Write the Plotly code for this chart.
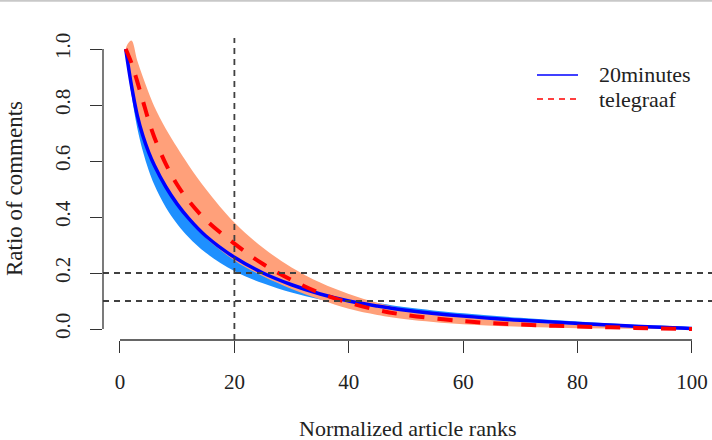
import plotly.graph_objects as go

# ---- data ----
ranks = [1, 2, 3, 4, 5, 6, 8, 10, 12, 15, 20, 25, 30, 35, 40, 45, 50, 60, 70, 80, 90, 100]

min20_mean = [1.00, 0.87, 0.765, 0.69, 0.632, 0.585, 0.508, 0.446, 0.395, 0.332, 0.256, 0.200,
              0.158, 0.125, 0.100, 0.082, 0.067, 0.046, 0.031, 0.020, 0.010, 0.002]
min20_low = [1.00, 0.84, 0.72, 0.635, 0.568, 0.515, 0.435, 0.375, 0.328, 0.272, 0.207, 0.163,
             0.130, 0.105, 0.086, 0.071, 0.058, 0.040, 0.027, 0.017, 0.008, 0.001]
min20_high = [1.00, 0.88, 0.775, 0.70, 0.642, 0.595, 0.518, 0.456, 0.405, 0.342, 0.265, 0.208,
              0.166, 0.134, 0.110, 0.093, 0.078, 0.056, 0.040, 0.027, 0.015, 0.004]

tel_mean = [1.00, 0.95, 0.885, 0.815, 0.745, 0.685, 0.59, 0.515, 0.458, 0.39, 0.305, 0.232,
            0.175, 0.128, 0.094, 0.068, 0.050, 0.028, 0.016, 0.009, 0.004, 0.0]
tel_low = [1.00, 0.88, 0.772, 0.695, 0.635, 0.585, 0.505, 0.44, 0.388, 0.325, 0.245, 0.188,
           0.143, 0.105, 0.072, 0.050, 0.035, 0.017, 0.008, 0.003, 0.001, 0.0]
tel_high = [1.00, 1.03, 0.96, 0.90, 0.845, 0.795, 0.715, 0.648, 0.585, 0.50, 0.38, 0.29,
            0.22, 0.166, 0.125, 0.094, 0.071, 0.043, 0.026, 0.014, 0.006, 0.001]

series_names = ["20minutes", "telegraaf"]
x_ticks = [0, 20, 40, 60, 80, 100]
y_ticks = [0.0, 0.2, 0.4, 0.6, 0.8, 1.0]
y_ticktext = ["0.0", "0.2", "0.4", "0.6", "0.8", "1.0"]
vline_x = [20]
hline_y = [0.2, 0.1]

# ---- layout geometry ----
W, H = 712, 440
ML, MR, MT, MB = 103, 0, 38, 100
PW, PH = W - ML - MR, H - MT - MB
x_range = [-2.97, 103.5]
y_range = [-0.0393, 1.0393]
FONT = "Liberation Serif, Times New Roman, serif"
TXT = "#222222"
AX = "#333333"
SMOOTH = 1.0


def px_to_paper_x(px):
    return (px - ML) / PW


def px_to_paper_y(py):
    return (H - MB - py) / PH


def data_to_paper_x(v):
    return (v - x_range[0]) / (x_range[1] - x_range[0])


def data_to_paper_y(v):
    return (v - y_range[0]) / (y_range[1] - y_range[0])


fig = go.Figure()

# bands
fig.add_trace(go.Scatter(
    x=ranks + ranks[::-1], y=min20_high + min20_low[::-1],
    fill="toself", fillcolor="#1E90FF", line=dict(width=0, shape="spline", smoothing=SMOOTH),
    mode="lines", hoverinfo="skip", showlegend=False))
fig.add_trace(go.Scatter(
    x=ranks + ranks[::-1], y=tel_high + tel_low[::-1],
    fill="toself", fillcolor="#FFA07A", line=dict(width=0, shape="spline", smoothing=SMOOTH),
    mode="lines", hoverinfo="skip", showlegend=False))

# lines
fig.add_trace(go.Scatter(
    x=ranks, y=min20_mean, mode="lines", name=series_names[0],
    line=dict(color="#0000FF", width=3.5, shape="spline", smoothing=SMOOTH), showlegend=False))
fig.add_trace(go.Scatter(
    x=ranks, y=tel_mean, mode="lines", name=series_names[1],
    line=dict(color="#FF0000", width=4, dash="15px,13px", shape="spline", smoothing=SMOOTH),
    showlegend=False))

shapes = []
# reference lines
for v in vline_x:
    shapes.append(dict(type="line", xref="x", yref="paper", x0=v, x1=v, y0=0, y1=1,
                       line=dict(color="#404040", width=1.8, dash="6px,5px"), layer="above"))
for v in hline_y:
    shapes.append(dict(type="line", xref="paper", yref="y", x0=0, x1=1, y0=v, y1=v,
                       line=dict(color="#404040", width=1.8, dash="6px,5px"), layer="above"))

# R-style detached axis lines (span first to last tick)
shapes.append(dict(type="line", xref="paper", yref="paper",
                   x0=data_to_paper_x(x_ticks[0]), x1=data_to_paper_x(x_ticks[-1]), y0=0, y1=0,
                   line=dict(color=AX, width=1.3)))
shapes.append(dict(type="line", xref="paper", yref="paper", x0=0, x1=0,
                   y0=data_to_paper_y(y_ticks[0]), y1=data_to_paper_y(y_ticks[-1]),
                   line=dict(color=AX, width=1.3)))

# top grey border line
shapes.append(dict(type="line", xref="paper", yref="paper",
                   x0=px_to_paper_x(0), x1=px_to_paper_x(W), y0=px_to_paper_y(0.8), y1=px_to_paper_y(0.8),
                   line=dict(color="#c8c8c8", width=2)))

# manual legend samples
leg_x0, leg_x1 = px_to_paper_x(537), px_to_paper_x(578)
shapes.append(dict(type="line", xref="paper", yref="paper", x0=leg_x0, x1=leg_x1,
                   y0=px_to_paper_y(75), y1=px_to_paper_y(75),
                   line=dict(color="#0000FF", width=1.3)))
shapes.append(dict(type="line", xref="paper", yref="paper", x0=leg_x0, x1=leg_x1,
                   y0=px_to_paper_y(99), y1=px_to_paper_y(99),
                   line=dict(color="#FF0000", width=1.3, dash="6px,5px")))

annotations = [
    dict(text=series_names[0], xref="paper", yref="paper", x=px_to_paper_x(597), y=px_to_paper_y(75),
         xanchor="left", yanchor="middle", showarrow=False, font=dict(family=FONT, size=22, color=TXT)),
    dict(text=series_names[1], xref="paper", yref="paper", x=px_to_paper_x(597), y=px_to_paper_y(99),
         xanchor="left", yanchor="middle", showarrow=False, font=dict(family=FONT, size=22, color=TXT)),
    dict(text="Normalized article ranks", xref="paper", yref="paper", x=0.5, y=0,
         xanchor="center", yanchor="middle", yshift=-88, showarrow=False,
         font=dict(family=FONT, size=22, color=TXT)),
    dict(text="Ratio of comments", xref="paper", yref="paper", x=0, y=0.5,
         xanchor="center", yanchor="middle", xshift=-89, textangle=-90, showarrow=False,
         font=dict(family=FONT, size=23, color=TXT)),
]

fig.update_layout(
    width=W, height=H,
    margin=dict(l=ML, r=MR, t=MT, b=MB, pad=0),
    paper_bgcolor="white", plot_bgcolor="white",
    showlegend=False,
    shapes=shapes, annotations=annotations,
    xaxis=dict(range=x_range, tickmode="array", tickvals=x_ticks, ticks="outside", ticklen=12,
               tickwidth=1.3, tickcolor=AX, showline=False, showgrid=False, zeroline=False,
               tickfont=dict(family=FONT, size=21, color=TXT), ticklabelstandoff=11),
    yaxis=dict(range=y_range, tickmode="array", tickvals=y_ticks, ticktext=y_ticktext,
               ticks="outside", ticklen=12, tickwidth=1.3, tickcolor=AX, showline=False,
               showgrid=False, zeroline=False, tickangle=-90,
               tickfont=dict(family=FONT, size=21, color=TXT), ticklabelstandoff=12),
)

fig.write_html("out.html")
